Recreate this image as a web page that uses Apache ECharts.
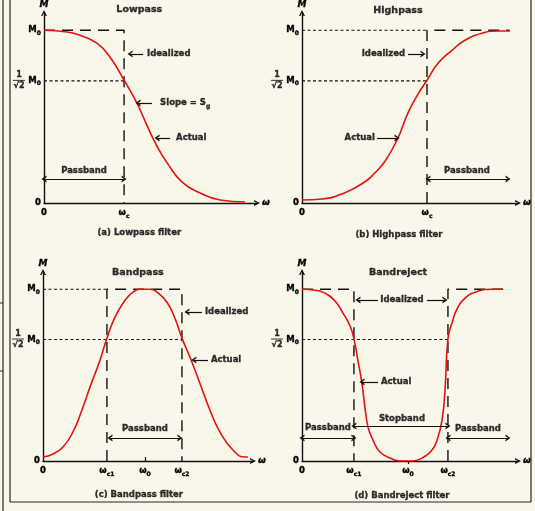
<!DOCTYPE html>
<html><head><meta charset="utf-8">
<script src="https://cdn.jsdelivr.net/npm/echarts@6/dist/echarts.min.js"></script>
<style>html,body{margin:0;padding:0;background:#f9f6ea;}#c{width:535px;height:511px;}</style>
</head><body><div id="c"></div>
<script>
// ---------------- DATA ----------------
// magnitude M in units of M0, frequency w in units of the cutoff (a,b) or centre frequency (c,d)
const lowpassW = [0, 0.29, 0.45, 0.66, 0.825, 1.0, 1.16, 1.29, 1.41, 1.54, 1.725, 1.95, 2.2, 2.51];
const lowpassM = [1.0, 0.99, 0.971, 0.925, 0.844, 0.711, 0.578, 0.445, 0.33, 0.231, 0.121, 0.058, 0.017, 0.006];

const highpassW = [0, 0.16, 0.344, 0.504, 0.584, 0.664, 0.76, 0.848, 0.928, 1.0, 1.088, 1.2, 1.304, 1.44, 1.568, 1.664];
const highpassM = [0.017, 0.023, 0.06, 0.123, 0.175, 0.242, 0.364, 0.522, 0.63, 0.711, 0.809, 0.884, 0.942, 0.983, 0.996, 0.996];

const bandpassW = [0, 0.098, 0.196, 0.294, 0.382, 0.461, 0.559, 0.627, 0.706, 0.804, 0.882, 0.951, 1.049, 1.118, 1.216, 1.294, 1.363, 1.441, 1.539, 1.637, 1.735, 1.863, 1.98, 2.01];
const bandpassM = [0.023, 0.041, 0.081, 0.169, 0.297, 0.43, 0.587, 0.715, 0.837, 0.936, 0.983, 1.0, 1.0, 0.983, 0.924, 0.831, 0.715, 0.605, 0.453, 0.297, 0.169, 0.064, 0.023, 0.023];

const bandrejectW = [0, 0.123, 0.217, 0.311, 0.387, 0.453, 0.49, 0.528, 0.566, 0.594, 0.623, 0.67, 0.736, 0.83, 0.925, 1.038, 1.132, 1.226, 1.274, 1.321, 1.349, 1.377, 1.415, 1.462, 1.538, 1.66, 1.792, 1.896];
const bandrejectM = [1.0, 0.994, 0.977, 0.931, 0.861, 0.786, 0.711, 0.584, 0.451, 0.312, 0.197, 0.121, 0.052, 0.017, 0, 0, 0.017, 0.064, 0.121, 0.237, 0.41, 0.711, 0.803, 0.884, 0.948, 0.988, 1.0, 1.0];

const halfPower = 0.7071;             // 1/sqrt(2)
const lowpassCut = 1.0;
const highpassCut = 1.0;
const bandpassCuts = [0.627, 1.363];
const bandrejectCuts = [0.49, 1.377];
const centreW = 1.0;

// tick labels
const yTickValues = [0, halfPower, 1];
const yTickText = ['0', 'M_0', 'M_0'];
const lowpassTickW = [0, lowpassCut];
const lowpassTickText = ['0', 'ω_c'];
const highpassTickW = [0, highpassCut];
const highpassTickText = ['0', 'ω_c'];
const bandpassTickW = [0, bandpassCuts[0], centreW, bandpassCuts[1]];
const bandpassTickText = ['0', 'ω_c1', 'ω_0', 'ω_c2'];
const bandrejectTickW = [0, bandrejectCuts[0], centreW, bandrejectCuts[1]];
const bandrejectTickText = ['0', 'ω_c1', 'ω_0', 'ω_c2'];

// ---------------- LAYOUT / STYLE ----------------
const FONT = 'DejaVu Sans';
const INK = '#111111';
const TXT = '#000000';
const RED = '#e3120f';
const BG = '#f9f6ea';
const CHEV = 'path://M0,10 L5,0 L10,10 L7.6,10 L5,4.6 L2.4,10 Z';
const LONG = [11, 7];
const SHORT = [3, 2.5];
const thick = {textBorderColor: TXT, textBorderWidth: 0.35};

const RICH = {
  nm: Object.assign({fontFamily: FONT, fontSize: 8.5, fontWeight: 'bold', color: TXT, lineHeight: 12}, thick),
  sb: Object.assign({fontFamily: FONT, fontSize: 6, fontWeight: 'bold', color: TXT, lineHeight: 8, verticalAlign: 'bottom'}, thick),
  tt: Object.assign({fontFamily: FONT, fontSize: 9.5, fontWeight: 'bold', color: TXT}, thick),
  nu: Object.assign({fontFamily: FONT, fontSize: 8, fontWeight: 'bold', color: TXT, lineHeight: 8, align: 'center'}, thick),
  br: {width: 12, height: 1, lineHeight: 3, backgroundColor: TXT, align: 'center'},
  dn: Object.assign({fontFamily: FONT, fontSize: 8, fontWeight: 'bold', color: TXT, lineHeight: 9, align: 'center'}, thick)
};
function rt(t) {
  const k = t.indexOf('_');
  return k < 0 ? '{nm|' + t + '}' : '{nm|' + t.slice(0, k) + '}{sb|' + t.slice(k + 1) + '}';
}

const panels = [
  { box: [44, 13, 213, 190], xMax: 2.66, w: lowpassW, m: lowpassM, ticks: lowpassTickW, tickText: lowpassTickText, centreTick: null,
    dashed: [[[0, 1], [lowpassCut, 1], [lowpassCut, 0]]],
    dotted: [[[0, halfPower], [lowpassCut, halfPower]]],
    arrows: [[1.2375, 0.863, 1.075, 0.863], [1.35, 0.579, 1.175, 0.579], [1.575, 0.376, 1.4125, 0.376]],
    doubles: [[0, 0.139, lowpassCut, 0.139]],
    notes: [[1.19, 1.118, 'Lowpass', 'center', 't'], [1.2875, 0.863, 'Idealized', 'left'], [1.45, 0.579, 'Slope = S_g', 'left'],
            [1.65, 0.376, 'Actual', 'left'], [0.5, 0.187, 'Passband', 'center'], [1.19, -0.174, '(a) Lowpass filter', 'center']] },
  { box: [302, 13, 216, 190], xMax: 1.728, w: highpassW, m: highpassM, ticks: highpassTickW, tickText: highpassTickText, centreTick: null,
    dashed: [[[highpassCut, 0], [highpassCut, 1], [1.66, 1]]],
    dotted: [[[0, 1], [highpassCut, 1]], [[0, halfPower], [highpassCut, halfPower]]],
    arrows: [[0.848, 0.863, 0.968, 0.863], [0.6, 0.376, 0.76, 0.376]],
    doubles: [[1.008, 0.139, 1.648, 0.139]],
    notes: [[0.768, 1.112, 'Highpass', 'center', 't'], [0.824, 0.863, 'Idealized', 'right'], [0.584, 0.376, 'Actual', 'right'],
            [1.32, 0.187, 'Passband', 'center'], [0.776, -0.185, '(b) Highpass filter', 'center']] },
  { box: [43, 272, 210, 189], xMax: 2.06, w: bandpassW, m: bandpassM, ticks: bandpassTickW, tickText: bandpassTickText, centreTick: 'in',
    dashed: [[[bandpassCuts[0], 0], [bandpassCuts[0], 1], [bandpassCuts[1], 1], [bandpassCuts[1], 0]]],
    dotted: [[[0, 1], [bandpassCuts[0], 1]], [[0, halfPower], [bandpassCuts[1], halfPower]]],
    arrows: [[1.559, 0.867, 1.412, 0.867], [1.618, 0.588, 1.48, 0.588]],
    doubles: [[0.657, 0.134, 1.343, 0.134]],
    notes: [[0.931, 1.094, 'Bandpass', 'center', 't'], [1.588, 0.867, 'Idealized', 'left'], [1.647, 0.588, 'Actual', 'left'],
            [1.0, 0.188, 'Passband', 'center'], [0.941, -0.198, '(c) Bandpass filter', 'center']] },
  { box: [302, 272, 216, 189], xMax: 2.038, w: bandrejectW, m: bandrejectM, ticks: bandrejectTickW, tickText: bandrejectTickText, centreTick: 'cross',
    dashed: [[[0, 1], [bandrejectCuts[0], 1], [bandrejectCuts[0], 0]], [[bandrejectCuts[1], 0], [bandrejectCuts[1], 1], [1.9, 1]]],
    dotted: [[[0, halfPower], [bandrejectCuts[1], halfPower]]],
    arrows: [[0.717, 0.937, 0.528, 0.937], [1.179, 0.937, 1.349, 0.937], [0.717, 0.46, 0.566, 0.46]],
    doubles: [[0, 0.134, bandrejectCuts[0], 0.134], [bandrejectCuts[0], 0.204, bandrejectCuts[1], 0.204], [bandrejectCuts[1], 0.134, 1.943, 0.134]],
    notes: [[0.906, 1.094, 'Bandreject', 'center', 't'], [0.943, 0.937, 'Idealized', 'center'], [0.745, 0.46, 'Actual', 'left'],
            [0.245, 0.194, 'Passband', 'center'], [0.943, 0.248, 'Stopband', 'center'], [1.66, 0.188, 'Passband', 'center'],
            [0.943, -0.204, '(d) Bandreject filter', 'center']] }
];

function lookup(vals, texts, v) {
  for (let i = 0; i < vals.length; i++) if (Math.abs(vals[i] - v) < 1e-6) return rt(texts[i]);
  return '';
}

const nameStyle = Object.assign({fontFamily: FONT, fontSize: 9, fontWeight: 'bold', color: TXT, fontStyle: 'italic'}, thick);
const grid = [], xAxis = [], yAxis = [], series = [];
panels.forEach((p, i) => {
  grid.push({left: p.box[0], top: p.box[1], width: p.box[2], height: p.box[3], containLabel: false, outerBoundsMode: 'none'});
  xAxis.push({
    gridIndex: i, type: 'value', min: 0, max: p.xMax, splitLine: {show: false},
    axisLine: {show: true, onZero: false, symbol: ['none', CHEV], symbolSize: [7, 6], lineStyle: {color: INK, width: 1.4}},
    axisTick: p.centreTick ? {show: true, customValues: [centreW], inside: p.centreTick === 'in', length: p.centreTick === 'in' ? 4 : 3, lineStyle: {color: INK, width: 1.2}} : {show: false},
    axisLabel: {show: true, customValues: p.ticks, margin: 4, formatter: v => lookup(p.ticks, p.tickText, v), rich: RICH},
    name: 'ω', nameLocation: 'end', nameGap: 5, nameTextStyle: nameStyle
  });
  yAxis.push({
    gridIndex: i, type: 'value', min: 0, max: 1.1, splitLine: {show: false},
    axisLine: {show: true, onZero: false, symbol: ['none', CHEV], symbolSize: [7, 6], lineStyle: {color: INK, width: 1.4}},
    axisTick: {show: false},
    axisLabel: {show: true, customValues: yTickValues, margin: 3, formatter: v => lookup(yTickValues, yTickText, v), rich: RICH},
    name: 'M', nameLocation: 'end', nameGap: 4, nameTextStyle: nameStyle
  });
  p.dashed.forEach(d => series.push({type: 'line', xAxisIndex: i, yAxisIndex: i, data: d, showSymbol: false, silent: true, z: 3,
    lineStyle: {color: INK, width: 1.4, type: LONG}}));
  p.dotted.forEach(d => series.push({type: 'line', xAxisIndex: i, yAxisIndex: i, data: d, showSymbol: false, silent: true, z: 3,
    lineStyle: {color: INK, width: 1.1, type: SHORT}}));
  const ml = [];
  p.arrows.forEach(a => ml.push([{coord: [a[0], a[1]], symbol: 'none'}, {coord: [a[2], a[3]], symbol: CHEV, symbolSize: [7, 5]}]));
  p.doubles.forEach(a => ml.push([{coord: [a[0], a[1]], symbol: CHEV, symbolSize: [7, 5]}, {coord: [a[2], a[3]], symbol: CHEV, symbolSize: [7, 5]}]));
  series.push({type: 'line', xAxisIndex: i, yAxisIndex: i, data: p.w.map((w, k) => [w, p.m[k]]), smooth: 0.5,
    showSymbol: false, silent: true, z: 4, lineStyle: {color: RED, width: 1.6},
    markLine: {silent: true, animation: false, symbol: ['none', 'none'], label: {show: false}, emphasis: {disabled: true},
      lineStyle: {color: INK, width: 1.2, type: 'solid'}, data: ml}});
  const notes = p.notes.map(n => ({value: [n[0], n[1]], label: {show: true, position: 'inside', align: n[3], verticalAlign: 'middle',
    formatter: () => n[4] === 't' ? '{tt|' + n[2] + '}' : rt(n[2]), rich: RICH}}));
  notes.push({value: [0, halfPower], label: {show: true, position: 'inside', align: 'center', verticalAlign: 'middle', offset: [-25, 0],
    formatter: () => '{nu|1}\n{br| }\n{dn|√2}', rich: RICH}});
  series.push({type: 'scatter', xAxisIndex: i, yAxisIndex: i, symbolSize: 1, clip: false, silent: true, z: 6,
    itemStyle: {color: 'rgba(0,0,0,0)'}, data: notes});
});

const frame = {color: '#262626', width: 1.2};
const option = {
  animation: false, backgroundColor: BG, grid, xAxis, yAxis, series,
  graphic: [
    {type: 'line', shape: {x1: 3, y1: 0, x2: 3, y2: 511}, style: {stroke: frame.color, lineWidth: frame.width}, silent: true},
    {type: 'line', shape: {x1: 10, y1: 0, x2: 10, y2: 502}, style: {stroke: frame.color, lineWidth: frame.width}, silent: true},
    {type: 'line', shape: {x1: 10, y1: 502, x2: 531, y2: 502}, style: {stroke: frame.color, lineWidth: frame.width}, silent: true},
    {type: 'line', shape: {x1: 531, y1: 0, x2: 531, y2: 502}, style: {stroke: frame.color, lineWidth: frame.width}, silent: true},
    {type: 'line', shape: {x1: 0, y1: 303, x2: 3, y2: 303}, style: {stroke: frame.color, lineWidth: 1}, silent: true},
    {type: 'line', shape: {x1: 0, y1: 371, x2: 3, y2: 371}, style: {stroke: frame.color, lineWidth: 1}, silent: true}
  ]
};
const chart = echarts.init(document.getElementById('c'), null, {renderer: 'canvas'});
chart.setOption(option);
</script></body></html>
